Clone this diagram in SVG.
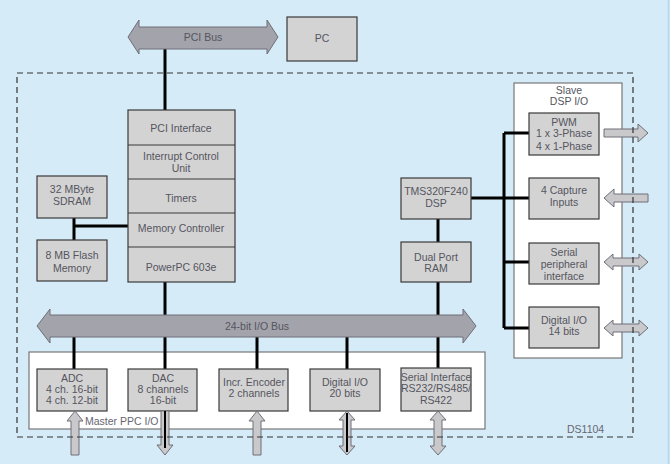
<svg xmlns="http://www.w3.org/2000/svg" width="670" height="464" viewBox="0 0 670 464">
<style>
.box{fill:#d3d3d3;stroke:#3a3a3a;stroke-width:1.2}
.wbox{fill:#ffffff;stroke:#777;stroke-width:1.2}
.bus{fill:#a3a3ab;stroke:#6e6e78;stroke-width:1}
.sarr{fill:#c9c9cc;stroke:#6e6e78;stroke-width:1}
.wire{fill:none;stroke:#000;stroke-width:3}
.t{font-family:"Liberation Sans",Arial,sans-serif;font-size:10.5px;fill:#555560;text-anchor:middle}
.lbl{font-family:"Liberation Sans",Arial,sans-serif;font-size:10.5px;fill:#666670}
.dash{fill:none;stroke:#333;stroke-width:1.2;stroke-dasharray:6,4}
</style>
<rect x="0" y="0" width="670" height="464" fill="#d6ebf8"/>
<line x1="668.5" y1="0" x2="668.5" y2="464" stroke="#b5d5ea" stroke-width="1.5"/>

<g id="master-io-frame">
<rect class="wbox" x="29" y="352" width="456" height="77"/>
<text class="lbl" x="85" y="425">Master PPC I/O</text>
</g>
<g id="slave-io-frame">
<rect class="wbox" x="514" y="83" width="108" height="275"/>
<text class="t" x="569" y="94">Slave</text>
<text class="t" x="569" y="105">DSP I/O</text>
</g>

<g id="connectors">
<path class="wire" d="M165,49 V110"/>
<path class="wire" d="M165,282 V315"/>
<path class="wire" d="M74,218 V240 M74,226 H128"/>
<path class="wire" d="M74,337 V369"/>
<path class="wire" d="M165,337 V369"/>
<path class="wire" d="M257,337 V369"/>
<path class="wire" d="M347,337 V369"/>
<path class="wire" d="M438,219 V242 M438,282 V368"/>
<path class="wire" d="M471,198 H529 M504,133 V328 M504,133 H529 M504,262 H529 M504,328 H529"/>
</g>

<g id="pci-bus">
<path class="bus" d="M128,37 L139,20 L139,27 L267,27 L267,20 L278,37 L267,54 L267,49 L139,49 L139,54 Z"/>
<text class="t" x="203" y="41" fill="#666">PCI Bus</text>
</g>
<g id="pc">
<rect class="box" x="287" y="17" width="70" height="44"/>
<text class="t" x="322" y="42">PC</text>
</g>

<g id="io-bus">
<path class="bus" d="M37,326 L50,309 L50,315 L463,315 L463,309 L476,326 L463,343 L463,337 L50,337 L50,343 Z"/>
<text class="t" x="257" y="330">24-bit I/O Bus</text>
</g>

<g id="ppc-stack">
<rect class="box" x="128" y="110" width="107" height="172"/>
<path d="M128,145 H235 M128,179 H235 M128,213 H235 M128,247 H235" stroke="#3a3a3a" stroke-width="1.2"/>
<text class="t" x="181" y="132">PCI Interface</text>
<text class="t" x="181" y="160">Interrupt Control</text>
<text class="t" x="181" y="172">Unit</text>
<text class="t" x="181" y="202">Timers</text>
<text class="t" x="181" y="232">Memory Controller</text>
<text class="t" x="181" y="271">PowerPC 603e</text>
</g>

<g id="sdram">
<rect class="box" x="37" y="176" width="70" height="42"/>
<text class="t" x="72" y="193">32 MByte</text>
<text class="t" x="72" y="205">SDRAM</text>
</g>
<g id="flash">
<rect class="box" x="37" y="240" width="70" height="41"/>
<text class="t" x="72" y="259">8 MB Flash</text>
<text class="t" x="72" y="272">Memory</text>
</g>

<g id="dsp">
<rect class="box" x="401" y="178" width="70" height="41"/>
<text class="t" x="436" y="195">TMS320F240</text>
<text class="t" x="436" y="207">DSP</text>
</g>
<g id="dpram">
<rect class="box" x="401" y="242" width="70" height="40"/>
<text class="t" x="436" y="261">Dual Port</text>
<text class="t" x="436" y="272">RAM</text>
</g>

<g id="pwm">
<rect class="box" x="529" y="113" width="70" height="42"/>
<text class="t" x="564" y="126">PWM</text>
<text class="t" x="564" y="137">1 x 3-Phase</text>
<text class="t" x="564" y="150">4 x 1-Phase</text>
</g>
<g id="capture">
<rect class="box" x="529" y="178" width="70" height="41"/>
<text class="t" x="564" y="194">4 Capture</text>
<text class="t" x="564" y="206">Inputs</text>
</g>
<g id="spi">
<rect class="box" x="529" y="243" width="70" height="41"/>
<text class="t" x="564" y="256">Serial</text>
<text class="t" x="564" y="268">peripheral</text>
<text class="t" x="564" y="280">interface</text>
</g>
<g id="dio14">
<rect class="box" x="529" y="307" width="70" height="41"/>
<text class="t" x="564" y="324">Digital I/O</text>
<text class="t" x="564" y="335">14 bits</text>
</g>

<g id="adc">
<rect class="box" x="37" y="369" width="70" height="42"/>
<text class="t" x="72" y="382">ADC</text>
<text class="t" x="72" y="393">4 ch. 16-bit</text>
<text class="t" x="72" y="404">4 ch. 12-bit</text>
</g>
<g id="dac">
<rect class="box" x="128" y="369" width="69" height="42"/>
<text class="t" x="163" y="382">DAC</text>
<text class="t" x="163" y="393">8 channels</text>
<text class="t" x="163" y="404">16-bit</text>
</g>
<g id="encoder">
<rect class="box" x="219" y="369" width="69" height="42"/>
<text class="t" x="254" y="386">Incr. Encoder</text>
<text class="t" x="254" y="397">2 channels</text>
</g>
<g id="dio20">
<rect class="box" x="310" y="369" width="70" height="42"/>
<text class="t" x="345" y="386">Digital I/O</text>
<text class="t" x="345" y="397">20 bits</text>
</g>
<g id="serial">
<rect class="box" x="401" y="368" width="70" height="43"/>
<text class="t" x="436" y="381">Serial Interface</text>
<text class="t" x="436" y="392">RS232/RS485/</text>
<text class="t" x="436" y="404">RS422</text>
</g>

<g id="io-arrows">
<path class="sarr" d="M75,411 L83,421 L79,421 L79,455 L71,455 L71,421 L67,421 Z"/>
<path class="sarr" d="M161,411 L169,411 L169,445 L173,445 L165,455 L157,445 L161,445 Z"/>
<line x1="165" y1="411" x2="165" y2="448" stroke="#000" stroke-width="2"/>
<path class="sarr" d="M257,411 L265,421 L261,421 L261,455 L253,455 L253,421 L249,421 Z"/>
<path class="sarr" d="M347,411 L355,420 L351,420 L351,446 L355,446 L347,455 L339,446 L343,446 L343,420 L339,420 Z"/>
<line x1="347" y1="413" x2="347" y2="452" stroke="#000" stroke-width="2"/>
<path class="sarr" d="M438,411 L446,420 L442,420 L442,446 L446,446 L438,455 L430,446 L434,446 L434,420 L430,420 Z"/>
<path class="sarr" d="M604,129 L638,129 L638,124 L648,133 L638,142 L638,137 L604,137 Z"/>
<path class="sarr" d="M604,198 L614,189 L614,194 L648,194 L648,202 L614,202 L614,207 Z"/>
<path class="sarr" d="M604,262 L613,254 L613,258 L639,258 L639,254 L648,262 L639,270 L639,266 L613,266 L613,270 Z"/>
<path class="sarr" d="M604,328 L613,320 L613,324 L639,324 L639,320 L648,328 L639,336 L639,332 L613,332 L613,336 Z"/>
</g>

<g id="ds1104-frame">
<rect class="dash" x="17" y="73" width="616" height="364"/>
<text class="lbl" x="567" y="433">DS1104</text>
</g>
</svg>
